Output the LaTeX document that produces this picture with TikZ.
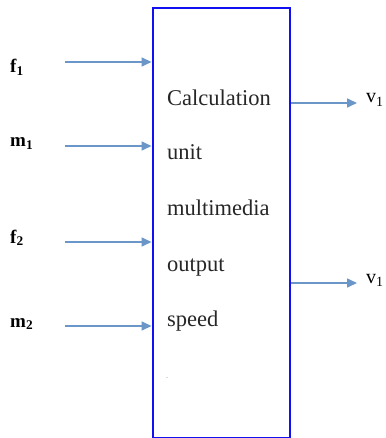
\documentclass[tikz,border=0pt]{standalone}
\usepackage{fontspec}
\setmainfont{Liberation Serif}
\usetikzlibrary{arrows.meta}
\definecolor{arrowblue}{HTML}{6A96C8}
\definecolor{boxblue}{HTML}{1010F0}
\tikzset{
  sig/.style={draw=arrowblue, line width=1.6pt, -{Triangle[length=10pt,width=9pt]}},
  inlbl/.style={anchor=base west, inner sep=0pt, font=\fontsize{19}{22}\selectfont\bfseries},
  outlbl/.style={anchor=base west, inner sep=0pt, font=\fontsize{20}{24}\selectfont},
  boxtxt/.style={anchor=base west, inner sep=0pt, font=\fontsize{22.5}{26}\selectfont, text=black!85}
}
\begin{document}
\begin{tikzpicture}[x=1pt,y=-1pt]
\useasboundingbox (0,0) rectangle (385,438);
% main box
\node[draw=boxblue, line width=2pt, minimum width=137pt, minimum height=429pt, inner sep=0pt, anchor=north west] (box) at (151.5,7.5) {};
% box text
\node[boxtxt] (t1) at (167,106) {Calculation};
\node[boxtxt] (t2) at (167,160) {unit};
\node[boxtxt] (t3) at (167,215) {multimedia};
\node[boxtxt] (t4) at (167,271) {output};
\node[boxtxt] (t5) at (167,326) {speed};
\node[boxtxt, font=\fontsize{8}{8}\selectfont, text=black!50] (t6) at (166,378) {.};
% input labels
\node[inlbl] (f1) at (10,73) {f\textsubscript{1}};
\node[inlbl] (m1) at (10,147) {m\textsubscript{1}};
\node[inlbl] (f2) at (10,243) {f\textsubscript{2}};
\node[inlbl] (m2) at (10,327) {m\textsubscript{2}};
% input arrow tails
\coordinate (a1) at (65,62);
\coordinate (a2) at (65,146);
\coordinate (a3) at (65,242);
\coordinate (a4) at (65,326);
\draw[sig] (a1) -- (a1 -| box.west);
\draw[sig] (a2) -- (a2 -| box.west);
\draw[sig] (a3) -- (a3 -| box.west);
\draw[sig] (a4) -- (a4 -| box.west);
% outputs
\node[outlbl] (v1) at (366,103) {v\textsubscript{1}};
\node[outlbl] (v2) at (366,283) {v\textsubscript{1}};
\coordinate (b1) at (357,103);
\coordinate (b2) at (357,283);
\draw[sig] (b1 -| box.east) -- (b1);
\draw[sig] (b2 -| box.east) -- (b2);
\end{tikzpicture}
\end{document}
